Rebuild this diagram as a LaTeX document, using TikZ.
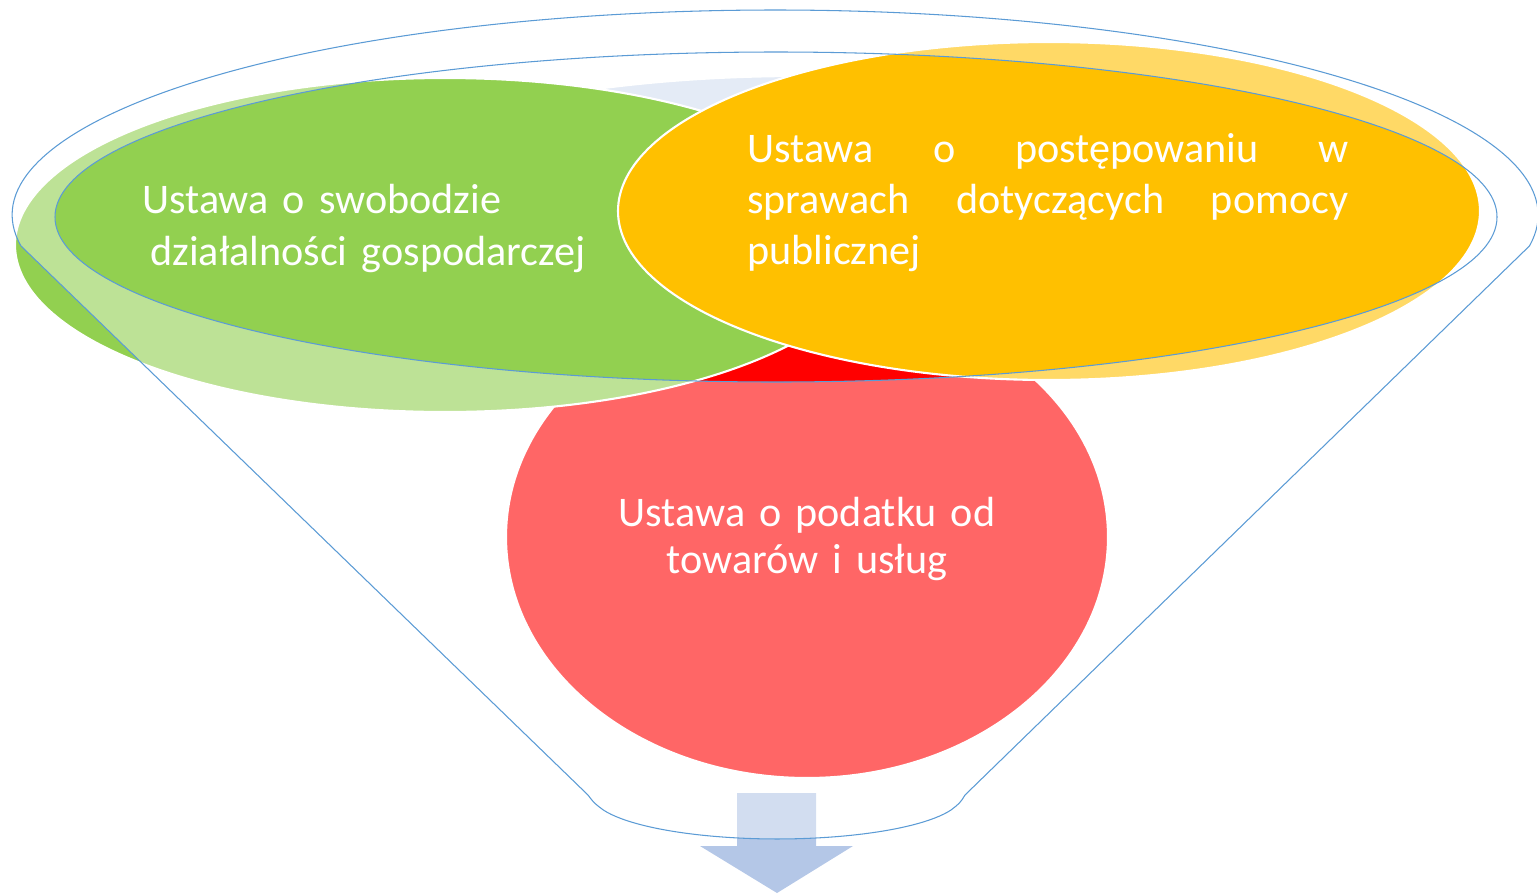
\documentclass[tikz,border=0pt]{standalone}
\usepackage{fontspec}
\setmainfont{Carlito}
\usepackage{tikz}
\definecolor{lawgreen}{HTML}{92D050}
\definecolor{lawyellow}{HTML}{FFC000}
\definecolor{lawred}{HTML}{FF0000}
\definecolor{lawpale}{HTML}{E4EBF6}
\definecolor{rimblue}{HTML}{5B9BD5}
\definecolor{arrowblue}{HTML}{B4C7E7}
\tikzstyle{lawblob} = [draw=white, line width=1.2pt]
\tikzstyle{rimline} = [draw=rimblue, line width=0.6pt]
\tikzstyle{lawtext} = [text=white, inner sep=0pt, anchor=base west]

\begin{document}
\begin{tikzpicture}[x=0.02cm, y=0.02cm, yscale=-1]
  \useasboundingbox (0,0) rectangle (1537,893);
  % the four circles
  \path[lawblob, fill=lawpale] (800,226) ellipse [x radius=500, y radius=150];
  \path[lawblob, fill=lawred] (807,537) ellipse [x radius=301, y radius=241];
  \path[lawblob, fill=lawgreen] (445,245) ellipse [x radius=430, y radius=167];
  \path[lawblob, fill=lawyellow] (1049,211) ellipse [x radius=431, y radius=169];
  % arrow under the funnel
  \fill[arrowblue] (737,793) -- (816,793) -- (816,846) -- (853,846) -- (777,893)
    -- (700,846) -- (737,846) -- cycle;
  % funnel wall
  \fill[white, fill opacity=0.4, even odd rule]
    (21,246) arc[start angle=171.3, end angle=368.7, x radius=763, y radius=205]
    -- (965,795) .. controls (960,803) .. (951,810)
    arc[start angle=20, end angle=160, x radius=185, y radius=44]
    .. controls (594,803) .. (588,795) -- cycle
    (776,217) ellipse [x radius=721, y radius=165];
  \draw[rimline]
    (21,246) arc[start angle=171.3, end angle=368.7, x radius=763, y radius=205]
    -- (965,795) .. controls (960,803) .. (951,810)
    arc[start angle=20, end angle=160, x radius=185, y radius=44]
    .. controls (594,803) .. (588,795) -- cycle;
  \draw[rimline] (776,217) ellipse [x radius=721, y radius=165];
  % labels
  \node[lawtext, text width=10cm, align=left,
    font=\fontsize{24}{30}\selectfont] (swoboda) at (142,213)
    {Ustawa o swobodzie\\\hspace*{0.16cm}działalności gospodarczej};
  \node[lawtext, text width=12.02cm, align=justify,
    font=\fontsize{24}{29.2}\selectfont] (pomoc) at (747,162)
    {\tolerance=10000\hbadness=10000 Ustawa o postępowaniu w\linebreak
     sprawach dotyczących pomocy\linebreak publicznej};
  \node[lawtext, anchor=base, text width=9cm, align=center,
    font=\fontsize{24}{27}\selectfont] (vat) at (807,526)
    {Ustawa o podatku od\\towarów i usług};
\end{tikzpicture}
\end{document}
